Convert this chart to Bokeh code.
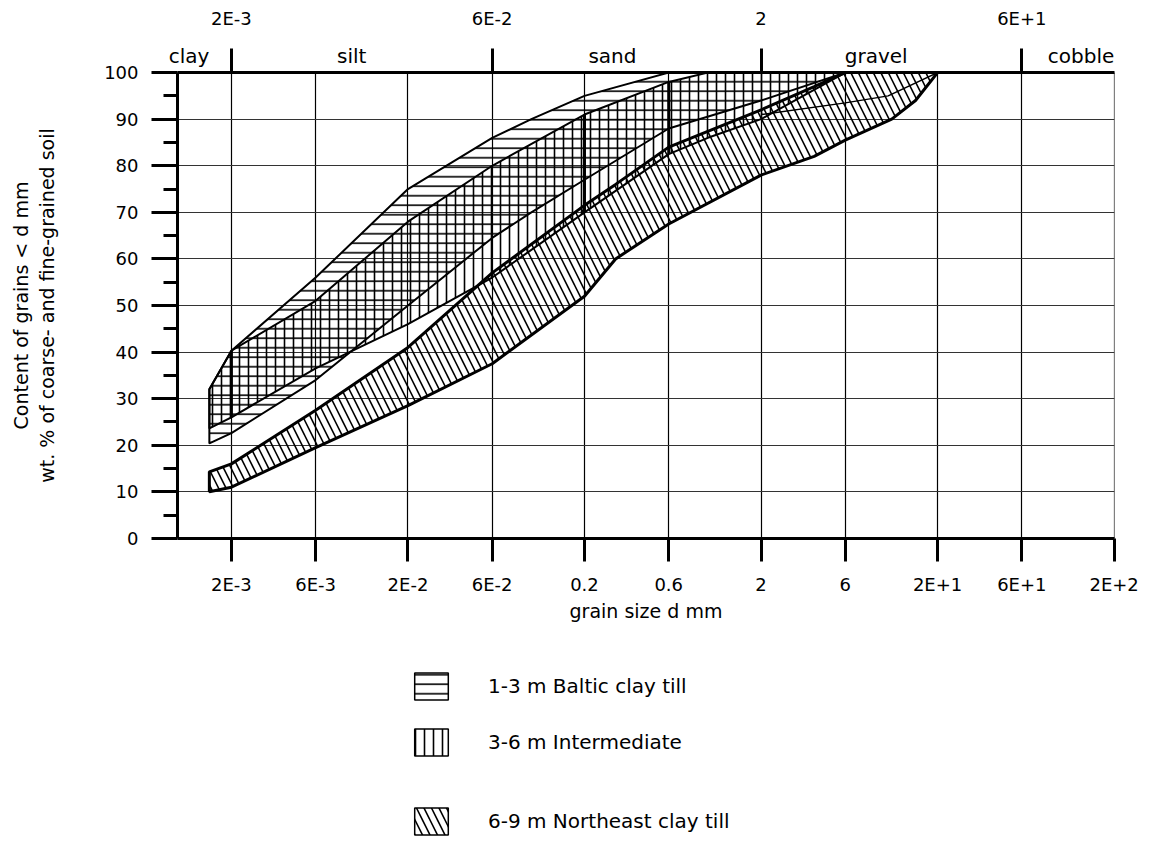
import numpy as np
from bokeh.plotting import figure
from bokeh.layouts import column
from bokeh.models import (Range1d, LogAxis, FixedTicker, Legend, LegendItem)
from bokeh.core.properties import value
from bokeh.embed import file_html
from bokeh.resources import INLINE

FONT = "DejaVu Sans"

# ---------------- data ----------------
x_ticks = [0.002, 0.006, 0.02, 0.06, 0.2, 0.6, 2, 6, 20, 60, 200]
x_tick_labels = ["2E-3", "6E-3", "2E-2", "6E-2", "0.2", "0.6", "2", "6", "2E+1", "6E+1", "2E+2"]
top_ticks = [0.002, 0.06, 2, 60]
top_tick_labels = ["2E-3", "6E-2", "2", "6E+1"]
y_ticks = list(range(0, 101, 10))
y_minor = list(range(5, 100, 10))

zone_names = ["clay", "silt", "sand", "gravel", "cobble"]
zone_label_d = [0.00115, 0.0096, 0.288, 8.98, 130]

# 1-3 m Baltic clay till (horizontal hatch)
baltic_d = [0.0015, 0.002, 0.006, 0.02, 0.06, 0.1, 0.2, 0.6, 2, 6]
baltic_hi = [32, 40.3, 56, 75, 86, 90, 95, 100, 100, 100]
baltic_lo = [20.4, 22.6, 34, 50, 64.5, 70, 77, 88, 94, 100]

# 3-6 m Intermediate (vertical hatch)
inter_d = [0.0015, 0.002, 0.006, 0.02, 0.06, 0.2, 0.6, 1, 2, 6]
inter_hi = [32, 40.3, 51, 68, 80, 91, 98, 100, 100, 100]
inter_lo = [23.6, 26, 36.5, 46, 56, 70, 82.5, 86, 90, 100]
inter_edge_d = [0.002, 0.2, 0.6]

# 6-9 m Northeast clay till (diagonal hatch)
ne_d = [0.0015, 0.002, 0.006, 0.02, 0.06, 0.2, 0.3, 0.6, 2, 4, 6, 11, 15, 20]
ne_hi = [14.3, 16, 27.5, 41, 57, 71.5, 76, 84, 92, 97, 100, 100, 100, 100]
ne_lo = [10, 11, 19.5, 28.5, 37.5, 52, 60, 67.5, 78, 82, 85.5, 90, 94, 100]
ne_mid_d = [2, 6, 10.5, 20]
ne_mid = [91, 93.5, 95, 100]

legend_labels = ["1-3 m Baltic clay till", "3-6 m Intermediate", "6-9 m Northeast clay till"]
y_title = "Content of grains < d mm\nwt. % of coarse- and fine-grained soil"
x_title = "grain size d mm"

# ---------------- main figure ----------------
p = figure(width=1153, height=640, x_axis_type="log",
           x_range=Range1d(0.00099, 201), y_range=Range1d(-0.02, 100.02),
           output_backend="svg", toolbar_location=None,
           min_border_left=177, min_border_right=39, min_border_top=72, min_border_bottom=102)
p.outline_line_color = None
p.background_fill_color = "white"
p.border_fill_color = "white"

# grids
p.xgrid.ticker = FixedTicker(ticks=x_ticks)
p.xgrid.grid_line_color = "black"
p.xgrid.grid_line_width = 1.2
p.ygrid.ticker = FixedTicker(ticks=y_ticks)
p.ygrid.grid_line_color = "#333333"
p.ygrid.grid_line_width = 1

# bottom axis
xa = p.xaxis[0]
xa.ticker = FixedTicker(ticks=x_ticks)
xa.major_label_overrides = {t: l for t, l in zip(x_ticks, x_tick_labels)}
xa.major_tick_out = 23
xa.major_tick_in = 0
xa.major_tick_line_width = 3
xa.minor_tick_line_color = None
xa.axis_line_width = 3
xa.major_label_standoff = 12
xa.major_label_text_font = FONT
xa.major_label_text_font_size = "18px"
xa.major_label_text_color = "black"
xa.axis_label = x_title
xa.axis_label_text_font = FONT
xa.axis_label_text_font_size = "19px"
xa.axis_label_text_font_style = "normal"
xa.axis_label_text_color = "black"
xa.axis_label_standoff = 2

# left axis
ya = p.yaxis[0]
ya.ticker = FixedTicker(ticks=y_ticks, minor_ticks=y_minor)
ya.major_tick_out = 26
ya.major_tick_in = 0
ya.minor_tick_out = 14
ya.minor_tick_in = 0
ya.major_tick_line_width = 3
ya.minor_tick_line_width = 3
ya.axis_line_width = 3
ya.major_label_standoff = 13
ya.major_label_text_font = FONT
ya.major_label_text_font_size = "18px"
ya.major_label_text_color = "black"
ya.axis_label = y_title
ya.axis_label_text_font = FONT
ya.axis_label_text_font_size = "19px"
ya.axis_label_text_font_style = "normal"
ya.axis_label_text_color = "black"
ya.axis_label_standoff = 43

# top: zone axis (closest) with boundary ticks as minor ticks
za = LogAxis(ticker=FixedTicker(ticks=zone_label_d, minor_ticks=top_ticks),
             major_label_overrides={t: l for t, l in zip(zone_label_d, zone_names)})
za.major_tick_out = 0
za.major_tick_in = 0
za.major_tick_line_color = None
za.minor_tick_out = 24
za.minor_tick_in = 0
za.minor_tick_line_width = 3
za.axis_line_width = 3
za.major_label_standoff = -19
za.major_label_text_font = FONT
za.major_label_text_font_size = "20px"
za.major_label_text_color = "black"
p.add_layout(za, "above")

# top: numeric boundary labels (outer)
ta = LogAxis(ticker=FixedTicker(ticks=top_ticks),
             major_label_overrides={t: l for t, l in zip(top_ticks, top_tick_labels)})
ta.major_tick_out = 0
ta.major_tick_in = 0
ta.major_tick_line_color = None
ta.minor_tick_line_color = None
ta.axis_line_color = None
ta.major_label_standoff = 12
ta.major_label_text_font = FONT
ta.major_label_text_font_size = "18px"
ta.major_label_text_color = "black"
p.add_layout(ta, "above")

# ---------------- bands ----------------
def draw_bands(fig, widths):
    common = dict(fill_alpha=0, hatch_color="black", hatch_weight=1.6, line_color="black")
    a = fig.patch(x=baltic_d + baltic_d[::-1], y=baltic_hi + baltic_lo[::-1],
                  hatch_pattern="horizontal_line", hatch_scale=9.5, line_width=widths[0], **common)
    b = fig.patch(x=inter_d + inter_d[::-1], y=inter_hi + inter_lo[::-1],
                  hatch_pattern="vertical_line", hatch_scale=9, line_width=widths[1], **common)
    c = fig.patch(x=ne_d + ne_d[::-1], y=ne_hi + ne_lo[::-1],
                  hatch_pattern="left_diagonal_line", hatch_scale=15, line_width=widths[2], **common)
    return a, b, c

draw_bands(p, (2, 2, 3))
edge_lo = [inter_lo[inter_d.index(d)] for d in inter_edge_d]
edge_hi = [inter_hi[inter_d.index(d)] for d in inter_edge_d]
p.segment(x0=inter_edge_d, y0=edge_lo, x1=inter_edge_d, y1=edge_hi, line_color="black", line_width=3)
p.line(x=ne_mid_d, y=ne_mid, line_color="black", line_width=1.5)

# ---------------- legend figure (below) ----------------
q = figure(width=1153, height=203, output_backend="svg", toolbar_location=None,
           x_range=Range1d(1000, 2000), y_range=Range1d(1000, 2000),
           x_axis_location=None, y_axis_location=None, min_border=0)
q.grid.visible = False
q.outline_line_color = None
q.background_fill_color = "white"
q.border_fill_color = "white"
q1, q2, q3 = draw_bands(q, (1.5, 1.5, 1.5))

leg_style = dict(orientation="vertical", glyph_width=42, glyph_height=34, padding=0, margin=0,
                 label_standoff=36, background_fill_alpha=0, border_line_alpha=0,
                 label_text_font=FONT, label_text_font_size="20px", label_text_color="black")
legend_a = Legend(items=[LegendItem(label=value(legend_labels[0]), renderers=[q1]),
                         LegendItem(label=value(legend_labels[1]), renderers=[q2])],
                  location=(233, 84), spacing=22, **leg_style)
legend_b = Legend(items=[LegendItem(label=value(legend_labels[2]), renderers=[q3])],
                  location=(233, 5), spacing=0, **leg_style)
q.add_layout(legend_a, "center")
q.add_layout(legend_b, "center")

open("out.html", "w").write(file_html(column(p, q, spacing=0), INLINE))
